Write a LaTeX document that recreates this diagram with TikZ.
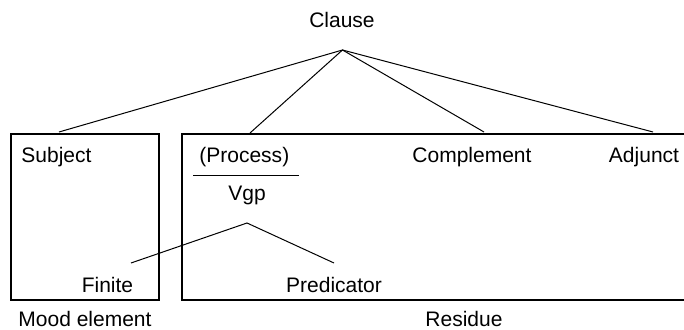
\documentclass[tikz,border=0pt]{standalone}
\usepackage{fontspec}
\setmainfont{Liberation Sans}
\begin{document}
\begin{tikzpicture}[x=0.5pt,y=-0.5pt,
  lbl/.style={inner sep=0pt,font=\fontsize{10.5}{12}\selectfont},
  ln/.style={line width=0.5pt},
  bx/.style={line width=0.6pt}]
\useasboundingbox (0,0) rectangle (684,330);
% labels
\node[lbl] (clause) at (342,20) {Clause};
\node[lbl,anchor=west] (subject) at (21,157) {Subject};
\node[lbl,anchor=west] (process) at (199,157) {(Process)};
\node[lbl] (complement) at (472,157) {Complement};
\node[lbl] (adjunct) at (644,157) {Adjunct};
\node[lbl] (vgp) at (247,195) {Vgp};
\node[lbl] (finite) at (107.5,285) {Finite};
\node[lbl] (predicator) at (334,285) {Predicator};
\node[lbl] (mood) at (85,319) {Mood element};
\node[lbl] (residue) at (464,319) {Residue};
% boxes
\draw[bx] (11,300) -- (11,134) -- (159,134) -- (159,300) -- cycle;
\draw[bx] (182,300) -- (182,134) -- (700,134) -- (700,300) -- cycle;
% tree from clause
\coordinate (apex) at (342.5,50);
\coordinate (tsub) at (59,132);
\coordinate (tproc) at (250,133);
\coordinate (tcomp) at (484,132);
\coordinate (tadj) at (653,132);
\draw[ln] (tsub) -- (apex) -- (tadj);
\draw[ln] (tproc) -- (apex) -- (tcomp);
% rule under process
\coordinate (rl) at (193,176);
\coordinate (rr) at (299,176);
\draw[ln] (rl) -- (rr);
% vgp tree
\coordinate (vapex) at (247,223);
\coordinate (tfin) at (131,263);
\coordinate (tpred) at (334,263);
\draw[ln] (tfin) -- (vapex) -- (tpred);
\end{tikzpicture}
\end{document}
